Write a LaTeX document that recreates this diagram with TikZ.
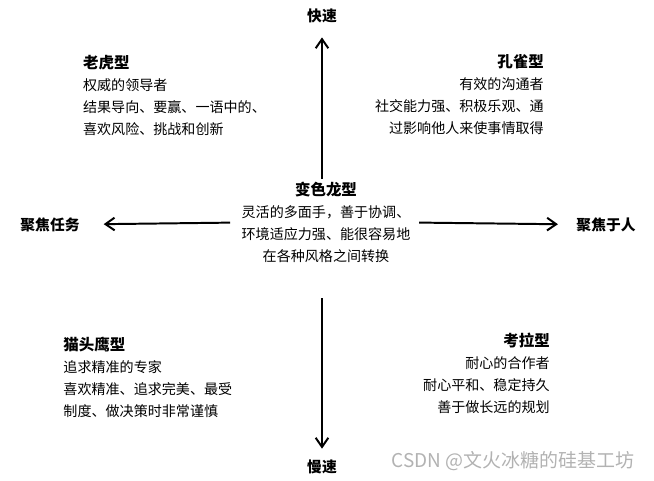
\documentclass[tikz,border=0pt]{standalone}
\usepackage{fontspec}
\setmainfont{Noto Sans CJK SC}
\usetikzlibrary{arrows.meta}
\newcommand{\typname}[1]{{\bfseries\fontsize{11}{15.6}\selectfont #1}}

\begin{document}
\begin{tikzpicture}[
    >={Straight Barb[length=6.5pt,width=9pt]},
    every node/.style={font=\fontsize{10}{15.6}\selectfont, inner sep=0pt},
    axis/.style={->, line width=1.4pt},
    dir/.style={font=\bfseries\fontsize{10.5}{15.6}\selectfont},
    quadl/.style={align=left, anchor=north west},
    quadr/.style={align=right, anchor=north east},
  ]
    \useasboundingbox (0,0) rectangle (16.35,-12);

    % 中心
    \node[align=center, anchor=north] (ctr) at (8.15,-4.55)
      {\typname{变色龙型}\\灵活的多面手，善于协调、\\环境适应力强、能很容易地\\在各种风格之间转换};

    % 四个方向
    \node[dir] (fast) at (8.05,-0.4)   {快速};
    \node[dir] (slow) at (8.05,-11.68) {慢速};
    \node[dir] (task) at (1.25,-5.62)  {聚焦任务};
    \node[dir] (ppl)  at (15.15,-5.62) {聚焦于人};

    % 四个象限
    \node[quadl] (tiger)   at (2.07,-1.37)  {\typname{老虎型}\\权威的领导者\\结果导向、要赢、一语中的、\\喜欢风险、挑战和创新};
    \node[quadr] (peacock) at (13.6,-1.35)  {\typname{孔雀型}\\有效的沟通者\\社交能力强、积极乐观、通\\过影响他人来使事情取得};
    \node[quadl] (owl)     at (1.58,-8.42)  {\typname{猫头鹰型}\\追求精准的专家\\喜欢精准、追求完美、最受\\制度、做决策时非常谨慎};
    \node[quadr] (koala)   at (13.75,-8.32) {\typname{考拉型}\\耐心的合作者\\耐心平和、稳定持久\\善于做长远的规划};

    % 水印
    \node[font=\fontsize{13.5}{16}\selectfont, text=black!30] (mark) at (12.83,-11.52) {CSDN @文火冰糖的硅基工坊};

    % 箭头
    \draw[axis, shorten <=2pt, shorten >=10pt] (ctr.north -| fast) -- (fast);
    \draw[axis, shorten <=25pt, shorten >=8pt] (ctr.south -| slow) -- (slow);
    \draw[axis, shorten <=8pt, shorten >=17pt] (ctr.west) -- (task);
    \draw[axis, shorten <=6pt, shorten >=13pt] (ctr.east) -- (ppl);
  \end{tikzpicture}
\end{document}
